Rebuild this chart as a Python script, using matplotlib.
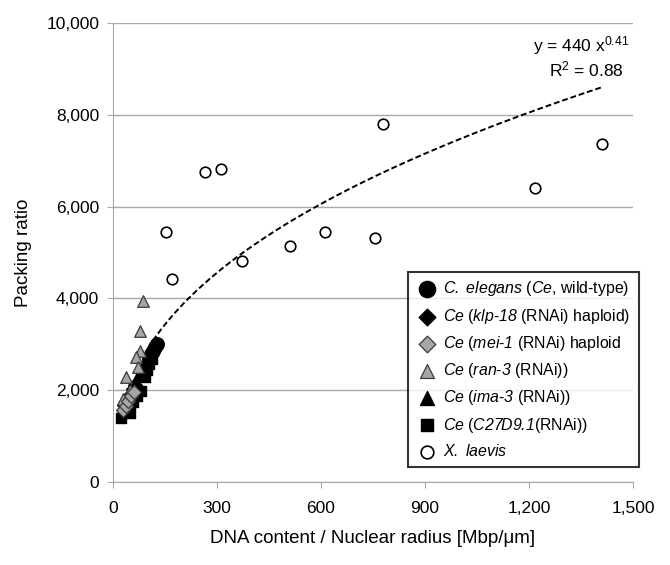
import numpy as np
import matplotlib
matplotlib.use('Agg')
import matplotlib.pyplot as plt
from matplotlib.ticker import FuncFormatter, MultipleLocator

plt.rcParams['font.family'] = ['Liberation Sans', 'DejaVu Sans']
plt.rcParams['mathtext.fontset'] = 'custom'
plt.rcParams['mathtext.rm'] = 'Liberation Sans'
plt.rcParams['mathtext.it'] = 'Liberation Sans:italic'
plt.rcParams['mathtext.sf'] = 'Liberation Sans:italic'

# C. elegans wild-type
wt_x = [104, 110, 116, 121, 126]
wt_y = [2700, 2790, 2860, 2950, 3000]

# klp-18 (RNAi) haploid
klp_x = [33, 42, 50, 58, 64]
klp_y = [1680, 1800, 1900, 2020, 2120]

# mei-1 (RNAi) haploid
mei_x = [28, 36, 44, 52, 60]
mei_y = [1560, 1650, 1760, 1880, 1960]

# ran-3 (RNAi)
ran_x = [86, 78, 78, 66, 72, 38, 50, 30]
ran_y = [3950, 3280, 2860, 2730, 2500, 2280, 2000, 1800]

# ima-3 (RNAi)
ima_x = [60, 72, 86, 96, 106]
ima_y = [2120, 2320, 2520, 2650, 2790]

# C27D9.1 (RNAi)
c27_x = [22, 39, 49, 58, 68, 80, 92, 98, 104, 112]
c27_y = [1390, 1640, 1505, 1750, 1880, 1980, 2280, 2450, 2580, 2680]

# X. laevis
xl_x = [153, 171, 265, 311, 372, 512, 611, 755, 778, 1217, 1411]
xl_y = [5448, 4414, 6764, 6814, 4807, 5149, 5440, 5324, 7796, 6408, 7368]

# power-law trendline shown on the chart
fit_a = 440
fit_b = 0.41
fit_start, fit_end = 115, 1410

fig = plt.figure(figsize=(6.7, 5.65), dpi=100)
ax = fig.add_axes([0.1687, 0.147, 0.776, 0.812])

fx = np.linspace(fit_start, fit_end, 300)
ax.plot(fx, fit_a * fx ** fit_b, color='black', linestyle=(0, (3, 1.5)), linewidth=1.4, zorder=2)

edge_gray = '#3a3a3a'
ax.scatter(xl_x, xl_y, s=58, marker='o', facecolor='white', edgecolor='black', linewidth=1.2, zorder=3,
           label=r'$\mathsf{X.\ laevis}$')
ax.scatter(c27_x, c27_y, s=60, marker='s', color='black', zorder=3,
           label=r'$\mathsf{Ce}$ ($\mathsf{C27D9.1}$(RNAi))')
ax.scatter(ima_x, ima_y, s=70, marker='^', color='black', zorder=4,
           label=r'$\mathsf{Ce}$ ($\mathsf{ima}$-$\mathsf{3}$ (RNAi))')
ax.scatter(ran_x, ran_y, s=70, marker='^', facecolor='#a6a6a6', edgecolor=edge_gray, linewidth=0.9, zorder=5,
           label=r'$\mathsf{Ce}$ ($\mathsf{ran}$-$\mathsf{3}$ (RNAi))')
ax.scatter(mei_x, mei_y, s=50, marker='D', facecolor='#a6a6a6', edgecolor=edge_gray, linewidth=0.9, zorder=5,
           label=r'$\mathsf{Ce}$ ($\mathsf{mei}$-$\mathsf{1}$ (RNAi) haploid')
ax.scatter(klp_x, klp_y, s=50, marker='D', color='black', zorder=4,
           label=r'$\mathsf{Ce}$ ($\mathsf{klp}$-$\mathsf{18}$ (RNAi) haploid)')
ax.scatter(wt_x, wt_y, s=95, marker='o', color='black', zorder=4,
           label=r'$\mathsf{C.\ elegans}$ ($\mathsf{Ce}$, wild-type)')

ax.set_xlim(0, 1500)
ax.set_ylim(0, 10000)
ax.xaxis.set_major_locator(MultipleLocator(300))
ax.yaxis.set_major_locator(MultipleLocator(2000))
ax.xaxis.set_major_formatter(FuncFormatter(lambda v, p: f'{v:,.0f}'))
ax.yaxis.set_major_formatter(FuncFormatter(lambda v, p: f'{v:,.0f}'))
ax.grid(axis='y', color='#a8a8a8', linewidth=1.0)
ax.set_axisbelow(True)
for side in ['top', 'right']:
    ax.spines[side].set_visible(False)
for side in ['left', 'bottom']:
    ax.spines[side].set_color('#a8a8a8')
ax.tick_params(colors='#a8a8a8', labelcolor='black', labelsize=12.5, length=4, pad=10)
ax.tick_params(axis='y', pad=6)

ax.set_xlabel('DNA content / Nuclear radius [Mbp/μm]', fontsize=13.5, labelpad=10)
ax.set_ylabel('Packing ratio', fontsize=13.5, labelpad=10)

ax.text(0.9, 0.952, r'y = 440 x$^{0.41}$', transform=ax.transAxes, ha='center', va='center', fontsize=12.5)
ax.text(0.91, 0.9, r'R$^{2}$ = 0.88', transform=ax.transAxes, ha='center', va='center', fontsize=12.5)

handles, labels = ax.get_legend_handles_labels()
leg = ax.legend(handles[::-1], labels[::-1], loc='lower left', bbox_to_anchor=(0.567, 0.033),
                fontsize=11.4, frameon=True, fancybox=False, borderpad=0.5, labelspacing=0.52,
                handletextpad=0.35, handlelength=1.4, borderaxespad=0, markerscale=1.2)
leg.get_frame().set_edgecolor('black')
leg.get_frame().set_linewidth(1.5)

fig.savefig('out.png', dpi=100)
